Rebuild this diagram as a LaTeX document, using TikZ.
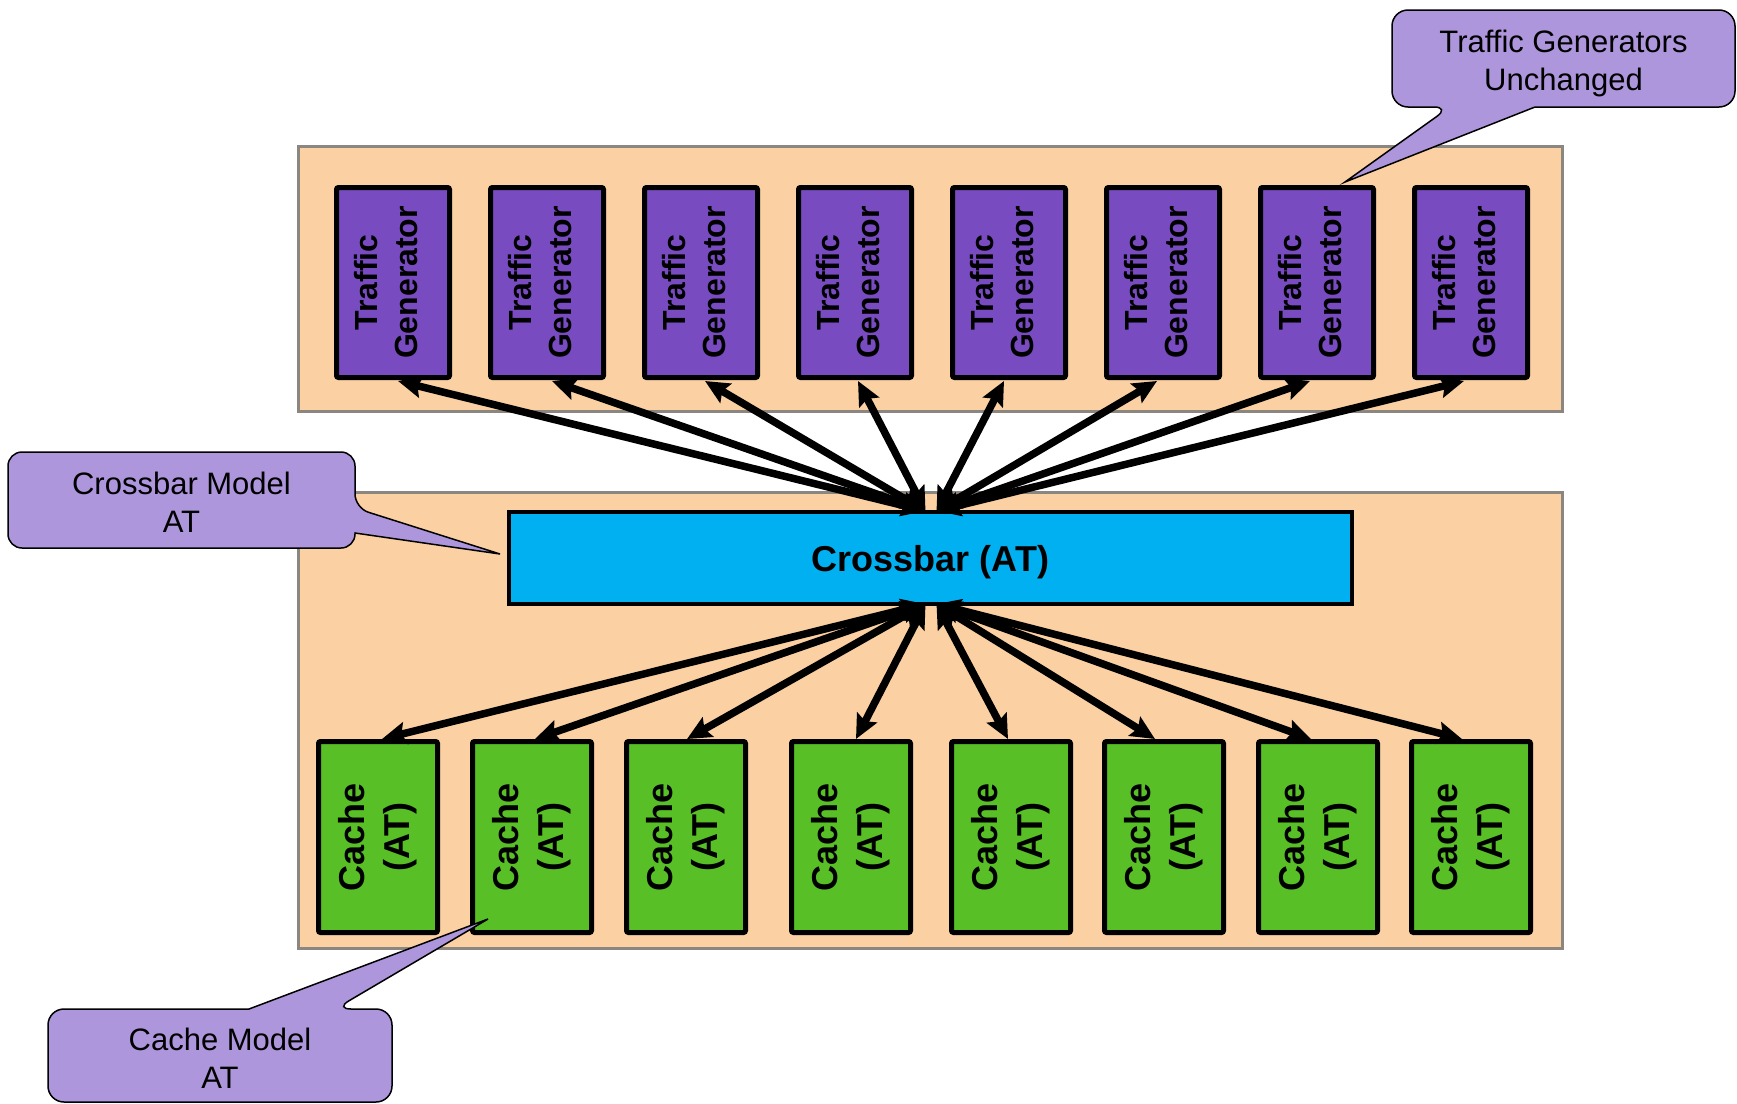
\documentclass[tikz,border=0pt]{standalone}
\usepackage{fontspec}
\setmainfont{Liberation Sans}
\usetikzlibrary{arrows.meta,calc}
\definecolor{grpfill}{RGB}{251,208,162}
\definecolor{grpline}{RGB}{140,134,128}
\definecolor{tgfill}{RGB}{120,76,192}
\definecolor{cachefill}{RGB}{88,192,38}
\definecolor{xbfill}{RGB}{0,176,240}
\definecolor{callfill}{RGB}{174,150,220}
\begin{document}
\begin{tikzpicture}[x=1pt,y=-1pt,
  grp/.style={draw=grpline,fill=grpfill,line width=3pt,inner sep=0pt},
  tg/.style={draw=black,fill=tgfill,line width=5pt,rounded corners=2pt,
    minimum width=113pt,minimum height=190pt,inner sep=0pt},
  tgtext/.style={rotate=90,inner sep=0pt,align=center,
    font=\fontsize{32}{40}\selectfont\bfseries},
  cache/.style={draw=black,fill=cachefill,line width=5pt,rounded corners=2pt,rotate=90,
    minimum width=191pt,minimum height=119pt,inner sep=0pt,align=center,
    font=\fontsize{36}{45}\selectfont\bfseries},
  xbar/.style={draw=black,fill=xbfill,line width=4pt,minimum width=843pt,minimum height=92pt,
    inner sep=0pt},
  xbtext/.style={inner sep=0pt,font=\fontsize{36}{42}\selectfont\bfseries},
  arr/.style={line width=7.5pt,{Stealth[length=24pt,width=22pt,inset=4pt]}-{Stealth[length=24pt,width=22pt,inset=4pt]}},
  callout/.style={draw=black,fill=callfill,line width=1.5pt},
  calltext/.style={align=center,inner sep=0pt,font=\fontsize{31}{38}\selectfont}
]
\useasboundingbox (0,0) rectangle (1737,1103);
\fill[white] (0,0) rectangle (1737,1103);

% groups
\node[grp,minimum width=1264pt,minimum height=265pt] (topgrp) at (930.5,279) {};
\node[grp,minimum width=1264pt,minimum height=456pt] (botgrp) at (930.5,720.5) {};

% traffic generators
\foreach \i in {0,...,7}{
  \node[tg] (tg\i) at ({393+154*\i},282.5) {};
  \node[tgtext] (tgl\i) at ($(tg\i.center)+(-7,0)$) {Traffic\\Generator};
}

% caches
\foreach \i/\cx in {0/378,1/532,2/686,3/851,4/1011,5/1164,6/1318,7/1471}
  \node[cache] (c\i) at (\cx,837) {Cache\\(AT)};

% crossbar
\node[xbar] (xb) at (930.5,558) {};
\node[xbtext] (xbl) at ($(xb.center)+(0,4)$) {Crossbar (AT)};

\coordinate (hubTL) at ($(xb.center)+(-5,-47)$);
\coordinate (hubTR) at ($(xb.center)+(6,-47)$);
\coordinate (hubBL) at ($(xb.center)+(-5,46)$);
\coordinate (hubBR) at ($(xb.center)+(6,46)$);

% top arrows
\foreach \i/\dx in {0/5,1/5,2/4,3/3}
  \draw[arr] (hubTL) -- ($(tg\i.south)+(\dx,1)$);
\foreach \i/\dx in {4/-5,5/-6,6/-7,7/-7}
  \draw[arr] (hubTR) -- ($(tg\i.south)+(\dx,1)$);

% bottom arrows
\foreach \i/\dx in {0/4,1/3,2/1,3/5}
  \draw[arr] (hubBL) -- ($(c\i.center)+(\dx,-98)$);
\foreach \i/\dx in {4/-3,5/-9,6/-7,7/-9}
  \draw[arr] (hubBR) -- ($(c\i.center)+(\dx,-98)$);

% callouts
\draw[callout] (1450,107) -- (1345,182) -- (1535,107) [rounded corners=16pt] -- (1735,107) -- (1735,10) -- (1392,10) -- (1392,107) -- cycle;
\node[calltext] (tgnote) at (1563.5,63) {Traffic Generators\\Unchanged};

\draw[callout] (355,508) -- (500,554) -- (355,533) [rounded corners=14pt] -- (355,548) -- (8,548) -- (8,452) -- (355,452) -- cycle;
\node[calltext] (xbnote) at (181.5,502) {Crossbar Model\\AT};

\draw[callout] (335,1009) -- (488,919) -- (249,1009) [rounded corners=16pt] -- (48,1009) -- (48,1102) -- (392,1102) -- (392,1009) -- cycle;
\node[calltext] (cnote) at (220,1058) {Cache Model\\AT};
\end{tikzpicture}
\end{document}
